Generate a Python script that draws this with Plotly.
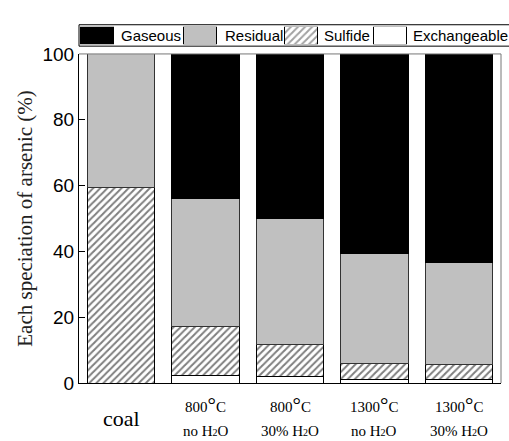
import plotly.graph_objects as go

# ---- data: arsenic speciation (% of total) ----
categories = ["coal", "800C_noH2O", "800C_30H2O", "1300C_noH2O", "1300C_30H2O"]
exchangeable = [0.0, 2.3, 2.1, 1.1, 1.0]
sulfide = [59.5, 14.8, 9.5, 4.8, 4.7]
residual = [40.5, 38.9, 38.4, 33.4, 30.8]
gaseous = [0.0, 44.0, 50.0, 60.7, 63.5]

label_top = ["", "800", "800", "1300", "1300"]
label_bottom = ["", "no", "30%", "no", "30%"]
series_names = ["Gaseous", "Residual", "Sulfide", "Exchangeable"]
y_ticks = [0, 20, 40, 60, 80, 100]

SANS = "Liberation Sans, Arial, sans-serif"
SERIF = "Liberation Serif, Times New Roman, serif"

W, H = 509, 441
M_L, M_R, M_T, M_B = 79, 8, 5, 58
PLOT_W = W - M_L - M_R
PLOT_H = H - M_T - M_B


def py_to_paper(py):
    """pixel row (from top of page) -> paper y"""
    return (H - M_B - py) / PLOT_H


def px_to_paper(px):
    return (px - M_L) / PLOT_W


hatch = dict(shape="/", fgcolor="black", bgcolor="white", size=5, solidity=0.4)
outline = dict(color="black", width=1)

fig = go.Figure()

fig.add_bar(x=categories, y=exchangeable, name="Exchangeable",
            marker=dict(color="white", line=outline))
fig.add_bar(x=categories, y=sulfide, name="Sulfide",
            marker=dict(color="white", line=outline, pattern=hatch))
fig.add_bar(x=categories, y=residual, name="Residual",
            marker=dict(color="#c0c0c0", line=dict(color="#333333", width=1)))
fig.add_bar(x=categories, y=gaseous, name="Gaseous",
            marker=dict(color="black", line=outline))

# ---- custom legend strip above the plot ----
legend_fills = ["black", "#c0c0c0", "white", "white"]
legend_shapes = ["", "", "/", ""]
swatch_center = [17.5, 121, 222, 310.5]     # px from left edge of plot area
swatch_width = 33
text_left_px = [119, 223, 322, 411]          # page px

fig.add_bar(
    x=swatch_center, y=[1, 1, 1, 1], width=[swatch_width] * 4,
    xaxis="x2", yaxis="y2", showlegend=False, hoverinfo="skip",
    marker=dict(color=legend_fills, line=dict(color="black", width=1),
                pattern=dict(shape=legend_shapes, fgcolor="black",
                             bgcolor=legend_fills, size=5, solidity=0.4)),
)

shapes = [
    # legend frame
    dict(type="rect", xref="paper", yref="paper",
         x0=0, x1=px_to_paper(W + 5), y0=py_to_paper(37), y1=py_to_paper(15),
         line=dict(color="black", width=1), fillcolor="white", layer="below"),
    # top & right frame of the plot area
    dict(type="line", xref="paper", yref="paper", x0=0, x1=1,
         y0=py_to_paper(45), y1=py_to_paper(45), line=dict(color="#777777", width=1)),
    dict(type="line", xref="paper", yref="paper", x0=1, x1=1,
         y0=0, y1=py_to_paper(45), line=dict(color="#777777", width=1)),
]

annotations = []
for name, lx in zip(series_names, text_left_px):
    annotations.append(dict(
        text=name, xref="paper", yref="paper", x=px_to_paper(lx), y=py_to_paper(26),
        xanchor="left", yanchor="middle", showarrow=False,
        font=dict(family=SANS, size=15, color="black")))

# x category labels
deg = '<span style="font-size:21px">°</span>'
sub2 = '<span style="font-size:10px">2</span>'
for cat, top, bottom in zip(categories, label_top, label_bottom):
    if not top:
        annotations.append(dict(
            text=cat, xref="x", yref="paper", x=cat, y=0, yshift=-(418 - 383),
            xanchor="center", yanchor="middle", showarrow=False,
            font=dict(family=SERIF, size=22, color="black")))
        continue
    annotations.append(dict(
        text=f"{top}{deg}C", xref="x", yref="paper", x=cat, y=0, yshift=-(405 - 383),
        xanchor="center", yanchor="middle", showarrow=False,
        font=dict(family=SERIF, size=15, color="black")))
    annotations.append(dict(
        text=f"{bottom} H{sub2}O", xref="x", yref="paper", x=cat, y=0, yshift=-(431 - 383),
        xanchor="center", yanchor="middle", showarrow=False,
        font=dict(family=SERIF, size=15, color="black")))

fig.update_layout(
    width=W, height=H,
    margin=dict(l=M_L, r=M_R, t=M_T, b=M_B),
    paper_bgcolor="white", plot_bgcolor="white",
    barmode="stack", bargap=0.2,
    showlegend=False,
    shapes=shapes, annotations=annotations,
    xaxis=dict(
        domain=[0, 1], type="category", categoryorder="array", categoryarray=categories,
        showticklabels=False, ticks="", showline=True, linecolor="black", linewidth=1,
        showgrid=False, zeroline=False, range=[-0.5, 4.5], fixedrange=True,
    ),
    yaxis=dict(
        domain=[0, py_to_paper(45)], range=[0, 100], tickvals=y_ticks,
        ticks="inside", ticklen=6, tickcolor="black", tickwidth=1,
        showline=True, linecolor="black", linewidth=1,
        showgrid=False, zeroline=False,
        tickfont=dict(family=SANS, size=19, color="black"),
        title=dict(text="Each speciation of arsenic (%)", standoff=4,
                   font=dict(family=SERIF, size=21, color="#222222")),
    ),
    xaxis2=dict(domain=[0, 1], range=[0, PLOT_W], anchor="y2", visible=False,
                fixedrange=True),
    yaxis2=dict(domain=[py_to_paper(35), py_to_paper(17)], range=[0, 1], anchor="x2",
                visible=False, fixedrange=True),
)

fig.write_html("out.html")
